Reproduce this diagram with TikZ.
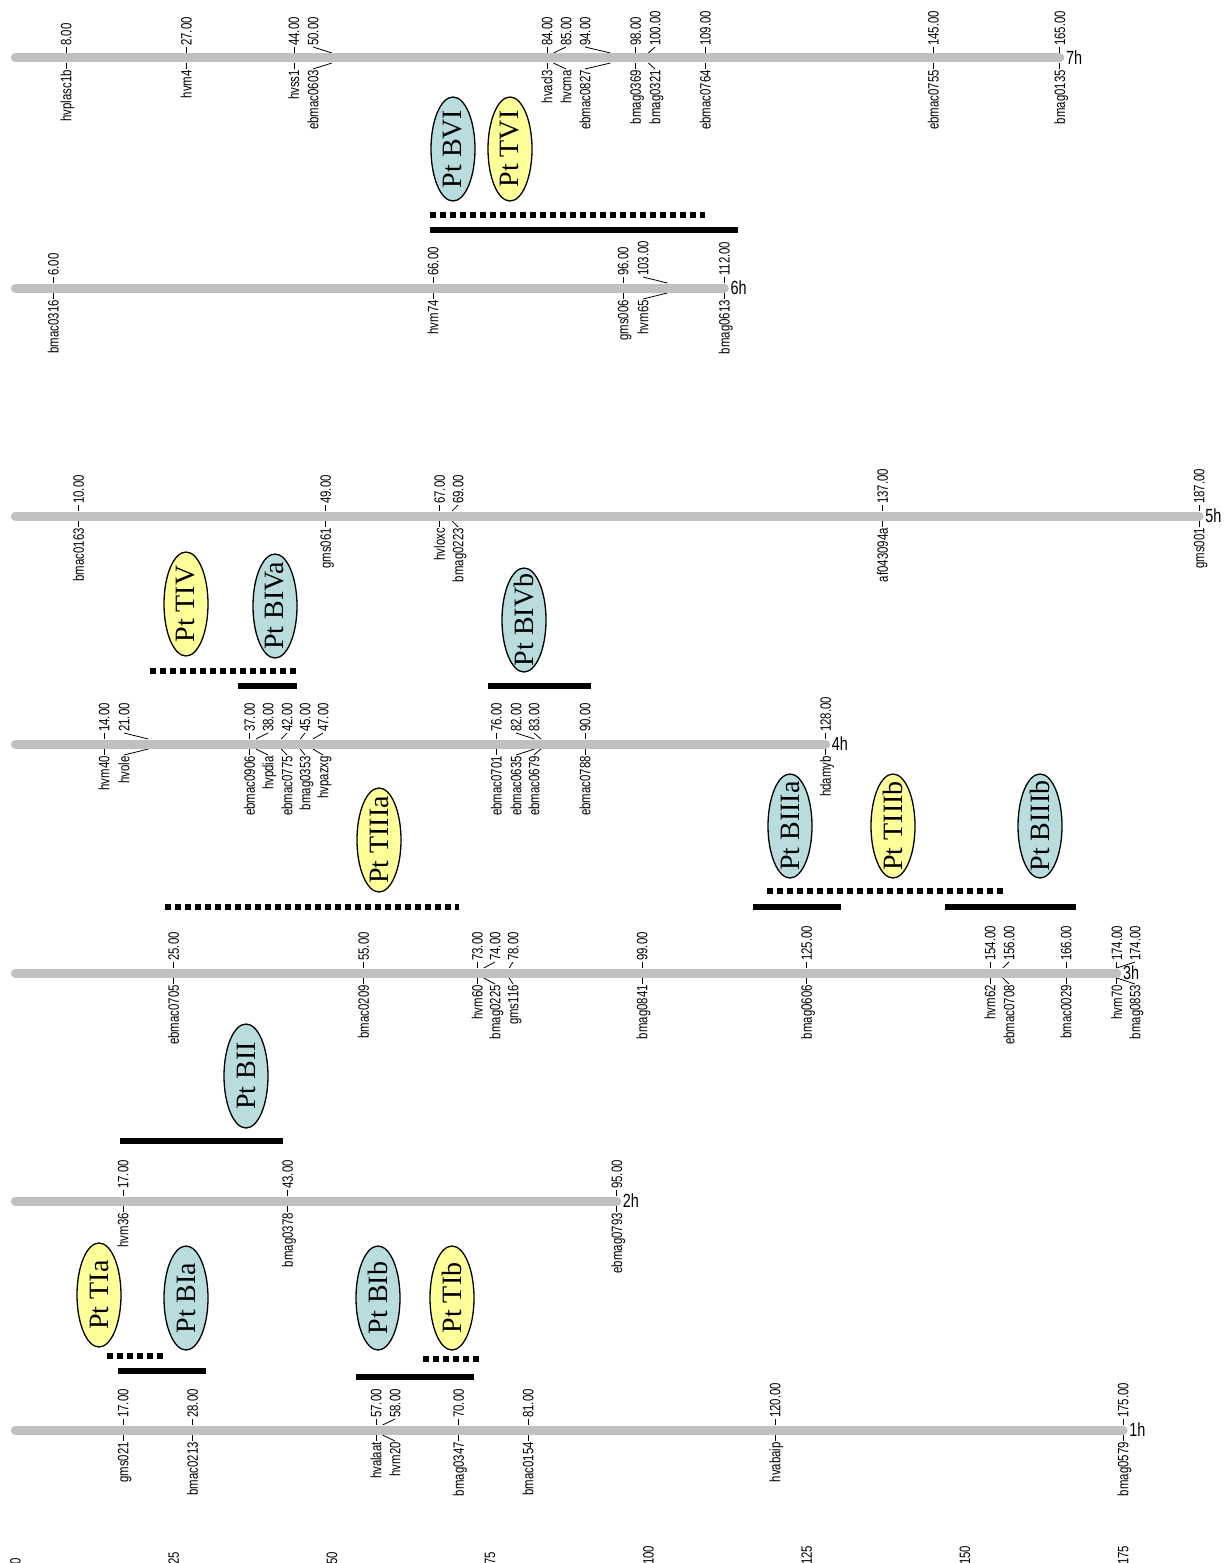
\documentclass[tikz,border=0pt]{standalone}
\usepackage{fontspec}
\newfontfamily\labfont[FakeStretch=0.76]{Liberation Sans}
\newfontfamily\qfont{Liberation Serif}
\usetikzlibrary{shapes.geometric}
\definecolor{chromgray}{RGB}{192,192,192}
\definecolor{qblue}{RGB}{185,221,222}
\definecolor{qyellow}{RGB}{255,255,153}
\newcount\mkcount
\newcommand\mk[5]{%
  \global\advance\mkcount by 1\relax
  \edef\mkid{\the\mkcount}%
  \pgfmathsetmacro\mkpx{15.4+6.33*#2}%
  \def\mklx{#3}\ifx\mklx\empty\let\mklx\mkpx\fi
  \coordinate (m\mkid) at (\mkpx,#1);
  \node[uplab] (u\mkid) at (\mklx,#1-11) {#4};
  \node[lowlab] (d\mkid) at (\mklx,#1+11) {#5};
  \draw[tickl] ([yshift=5pt]m\mkid) -- (u\mkid.west);
  \draw[tickl] ([yshift=-5pt]m\mkid) -- (d\mkid.east);
}
\newcommand\chr[4]{%
  \pgfmathsetmacro\chend{15.4+6.33*#2}%
  \draw[chrom] (15.4,#1) -- (\chend,#1);
  \node[chrname] (#4) at (\chend+5,#1) {#3};
}
\newcommand\qtl[5]{% style, x, y, id, text
  \node[#1] (#4) at (#2,#3) {};
  \node[qtxt] (#4t) at (#4.center) {#5};
}
\begin{document}
\begin{tikzpicture}[x=1pt,y=-1pt,
  uplab/.style={rotate=90, anchor=west, font=\labfont\fontsize{15}{15}\selectfont, inner sep=1pt, text height=10.5pt, text depth=0pt},
  lowlab/.style={uplab, anchor=east},
  tickl/.style={line width=0.8pt},
  chrom/.style={line width=9pt, draw=chromgray, line cap=round},
  chrname/.style={anchor=west, font=\labfont\fontsize{19}{19}\selectfont, inner sep=1pt},
  qell/.style={ellipse, draw, line width=1.3pt, minimum width=44pt, minimum height=104pt, inner sep=0pt},
  qB/.style={qell, fill=qblue},
  qT/.style={qell, fill=qyellow},
  qtxt/.style={rotate=90, font=\qfont\fontsize{28}{28}\selectfont, inner sep=0pt},
  qsolid/.style={line width=6pt},
  qdot/.style={line width=6pt, dash pattern=on 6pt off 4pt},
  axlab/.style={rotate=90, anchor=west, font=\labfont\fontsize{15}{15}\selectfont, inner sep=0pt}
]
\useasboundingbox (0,0) rectangle (1226,1563);
\clip (0,0) rectangle (1226,1563);
\fill[white] (0,0) rectangle (1226,1563);
% 7h
\mk{58}{8}{}{8.00}{hvplasc1b}
\mk{58}{27}{}{27.00}{hvm4}
\mk{58}{44}{}{44.00}{hvss1}
\mk{58}{50}{313}{50.00}{ebmac0603}
\mk{58}{84}{}{84.00}{hvacl3}
\mk{58}{85}{566}{85.00}{hvcma}
\mk{58}{94}{585}{94.00}{ebmac0827}
\mk{58}{98}{}{98.00}{bmag0369}
\mk{58}{100}{655}{100.00}{bmag0321}
\mk{58}{109}{}{109.00}{ebmac0764}
\mk{58}{145}{}{145.00}{ebmac0755}
\mk{58}{165}{}{165.00}{bmag0135}
\chr{58}{165}{7h}{c7}
% 6h
\mk{288}{6}{}{6.00}{bmac0316}
\mk{288}{66}{}{66.00}{hvm74}
\mk{288}{96}{}{96.00}{gms006}
\mk{288}{103}{643}{103.00}{hvm65}
\mk{288}{112}{}{112.00}{bmag0613}
\chr{288}{112}{6h}{c6}
% 5h
\mk{516}{10}{}{10.00}{bmac0163}
\mk{516}{49}{}{49.00}{gms061}
\mk{516}{67}{}{67.00}{hvloxc}
\mk{516}{69}{458}{69.00}{bmag0223}
\mk{516}{137}{}{137.00}{af043094a}
\mk{516}{187}{}{187.00}{gms001}
\chr{516}{187}{5h}{c5}
% 4h
\mk{744}{14}{}{14.00}{hvm40}
\mk{744}{21}{124}{21.00}{hvole}
\mk{744}{37}{}{37.00}{ebmac0906}
\mk{744}{38}{268}{38.00}{hvpdia}
\mk{744}{42}{287}{42.00}{ebmac0775}
\mk{744}{45}{305}{45.00}{bmag0353}
\mk{744}{47}{323}{47.00}{hvpazxg}
\mk{744}{76}{}{76.00}{ebmac0701}
\mk{744}{82}{516}{82.00}{ebmac0635}
\mk{744}{83}{534}{83.00}{ebmac0679}
\mk{744}{90}{}{90.00}{ebmac0788}
\mk{744}{128}{}{128.00}{hdamyb}
\chr{744}{128}{4h}{c4}
% 3h
\mk{973}{25}{}{25.00}{ebmac0705}
\mk{973}{55}{}{55.00}{bmac0209}
\mk{973}{73}{}{73.00}{hvm60}
\mk{973}{74}{495}{74.00}{bmag0225}
\mk{973}{78}{513}{78.00}{gms116}
\mk{973}{99}{}{99.00}{bmag0841}
\mk{973}{125}{}{125.00}{bmag0606}
\mk{973}{154}{}{154.00}{hvm62}
\mk{973}{156}{1009}{156.00}{ebmac0708}
\mk{973}{166}{}{166.00}{bmac0029}
\mk{973}{174}{}{174.00}{hvm70}
\mk{973}{174}{1135}{174.00}{bmag0853}
\chr{973}{174}{3h}{c3}
% 2h
\mk{1201}{17}{}{17.00}{hvm36}
\mk{1201}{43}{}{43.00}{bmag0378}
\mk{1201}{95}{}{95.00}{ebmag0793}
\chr{1201}{95}{2h}{c2}
% 1h
\mk{1430}{17}{}{17.00}{gms021}
\mk{1430}{28}{}{28.00}{bmac0213}
\mk{1430}{57}{}{57.00}{hvalaat}
\mk{1430}{58}{395}{58.00}{hvm20}
\mk{1430}{70}{}{70.00}{bmag0347}
\mk{1430}{81}{}{81.00}{bmac0154}
\mk{1430}{120}{}{120.00}{hvabaip}
\mk{1430}{175}{}{175.00}{bmag0579}
\chr{1430}{175}{1h}{c1}
% QTL 7h/6h
\qtl{qB}{453}{149}{bvi}{Pt BVI}
\qtl{qT}{510}{149}{tvi}{Pt TVI}
\draw[qdot] (430,215) -- (705,215);
\draw[qsolid] (430,230) -- (738,230);
% QTL 5h/4h
\qtl{qT}{186}{604}{tiv}{Pt TIV}
\qtl{qB}{275}{606}{biva}{Pt BIVa}
\qtl{qB}{524}{620}{bivb}{Pt BIVb}
\draw[qdot] (150,671) -- (296,671);
\draw[qsolid] (238,686) -- (297,686);
\draw[qsolid] (488,686) -- (591,686);
% QTL 4h/3h
\qtl{qT}{379}{840}{tiiia}{Pt TIIIa}
\draw[qdot] (165,907) -- (459,907);
\qtl{qB}{790}{826}{biiia}{Pt BIIIa}
\qtl{qT}{893}{826}{tiiib}{Pt TIIIb}
\qtl{qB}{1040}{826}{biiib}{Pt BIIIb}
\draw[qdot] (767,891) -- (1003,891);
\draw[qsolid] (753,907) -- (841,907);
\draw[qsolid] (945,907) -- (1076,907);
% QTL 3h/2h
\qtl{qB}{246}{1076}{bii}{Pt BII}
\draw[qsolid] (120,1141) -- (283,1141);
% QTL 2h/1h
\qtl{qT}{99}{1295}{tia}{Pt TIa}
\qtl{qB}{186}{1298}{bia}{Pt BIa}
\qtl{qB}{378}{1298}{bib}{Pt BIb}
\qtl{qT}{452}{1298}{tib}{Pt TIb}
\draw[qdot] (107,1356) -- (163,1356);
\draw[qsolid] (118,1371) -- (206,1371);
\draw[qsolid] (356,1377) -- (474,1377);
\draw[qdot] (423,1359) -- (481,1359);
% axis
\foreach \v in {0,25,...,175} {
  \node[axlab] (ax\v) at ({15.4+6.33*\v},1565) {\v};
}
\end{tikzpicture}
\end{document}
